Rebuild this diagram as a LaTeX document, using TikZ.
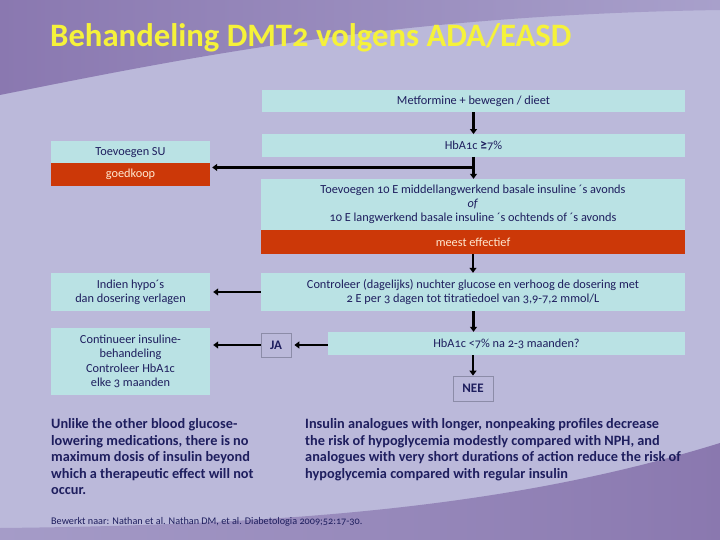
\documentclass[tikz,border=0pt]{standalone}
\usepackage{fontspec}
\setmainfont{Carlito}[Numbers=OldStyle]
\usetikzlibrary{arrows.meta,calc}
\definecolor{bgmain}{HTML}{BBB9DA}
\definecolor{topL}{HTML}{8A78B0}
\definecolor{topR}{HTML}{A8A0CB}
\definecolor{botL}{HTML}{A59CC8}
\definecolor{botR}{HTML}{8A78AF}
\definecolor{boxfill}{HTML}{BAE2E4}
\definecolor{redfill}{HTML}{CC3808}
\definecolor{redtext}{HTML}{FFE8D0}
\definecolor{navy}{HTML}{1E1E5E}
\definecolor{titlecol}{HTML}{F5F23A}
\definecolor{tagborder}{HTML}{8C8CA8}
\tikzset{
  stepbox/.style={fill=boxfill, draw=none, text=navy, inner sep=0pt, align=center,
    font=\fontsize{12.3}{14}\selectfont},
  redbox/.style={fill=redfill, draw=none, text=redtext, inner sep=0pt, align=center,
    font=\fontsize{12.3}{14}\selectfont},
  tagbox/.style={fill=bgmain, draw=tagborder, line width=0.8pt, text=navy, inner sep=0pt,
    font=\fontsize{13}{15}\selectfont\bfseries},
  arr/.style={draw=black, line width=2.2pt, -{Triangle[width=7pt,length=5pt]}},
  para/.style={text=navy, inner sep=0pt, anchor=north west, align=left,
    font=\fontsize{14.3}{16.5}\selectfont\bfseries}
}
\begin{document}
\begin{tikzpicture}[x=1pt,y=-1pt]
\useasboundingbox (0,0) rectangle (720,540);
% background
\fill[bgmain] (0,0) rectangle (720,540);
\shade[left color=topL, right color=topR]
  (0,0) -- (720,0) -- (720,10) .. controls (400,15) and (200,55) .. (0,95) -- cycle;
\shade[left color=botL, right color=botR]
  (0,540) -- (0,528) .. controls (300,525) and (520,505) .. (720,443) -- (720,540) -- cycle;
% title
\node[anchor=base west, inner sep=0pt, text=titlecol, font=\fontsize{32.7}{36}\selectfont\bfseries]
  (title) at (50,47) {Behandeling DMT2 volgens ADA/EASD};
% boxes
\node[stepbox, minimum width=423pt, minimum height=22pt] (met) at (473.5,101) {Metformine + bewegen / dieet};
\node[stepbox, minimum width=423pt, minimum height=22.5pt] (hba) at (473.5,145.5) {HbA1c \textbf{\fontsize{14}{14}\selectfont ≥}7\%};
\node[stepbox, minimum width=159pt, minimum height=22.3pt] (su) at (130.5,152.2) {Toevoegen SU};
\node[redbox, minimum width=159pt, minimum height=22.4pt] (goed) at (130.5,174.5) {goedkoop};
\node[stepbox, minimum width=424pt, minimum height=51pt] (ins) at (473,204.5)
  {Toevoegen 10 E middellangwerkend basale insuline ´s avonds\\\textit{of}\\10 E langwerkend basale insuline ´s ochtends of ´s avonds};
\node[redbox, minimum width=424pt, minimum height=24pt] (meest) at (473,242) {meest effectief};
\node[stepbox, minimum width=159pt, minimum height=38pt] (indien) at (130.5,292) {Indien hypo´s\\dan dosering verlagen};
\node[stepbox, minimum width=424pt, minimum height=38pt] (contr) at (473,292)
  {Controleer (dagelijks) nuchter glucose en verhoog de dosering met\\2 E per 3 dagen tot titratiedoel van 3,9-7,2 mmol/L};
\node[stepbox, minimum width=159pt, minimum height=67pt, font=\fontsize{12.3}{14.5}\selectfont] (cont) at (130.5,361.5)
  {Continueer insuline-\\behandeling\\Controleer HbA1c\\elke 3 maanden};
\node[stepbox, minimum width=357pt, minimum height=23pt] (hba2) at (506.5,343.5) {HbA1c <7\% na 2-3 maanden?};
\node[tagbox, minimum width=30pt, minimum height=24pt] (ja) at (276,345) {JA};
\node[tagbox, minimum width=40pt, minimum height=25pt] (nee) at (473,388.5) {NEE};
% connectors
\coordinate (j) at ($(hba.south)+(0,10.5)$);
\draw[arr] (met.south -| hba.north) -- (hba.north);
\draw[arr] (hba.south) -- (hba.south |- ins.north);
\draw[arr] (j) -- ([xshift=2pt]j -| goed.east);
\draw[arr] (meest.south -| contr.north) -- (contr.north);
\draw[arr] (contr.west) -- ([xshift=3pt]indien.east);
\draw[arr] (contr.south -| met.south) -- (hba2.north -| met.south);
\draw[arr] (hba2.south -| nee.north) -- (nee.north);
\draw[arr] (hba2.west |- ja.east) -- ([xshift=3pt]ja.east);
\draw[arr] (ja.west) -- ([xshift=3pt]ja.west -| cont.east);
% texts
\node[para] (left) at (51,418.5) {Unlike the other blood glucose-\\lowering medications, there is no\\maximum dosis of insulin beyond\\which a therapeutic effect will not\\occur.};
\node[para] (right) at (305,418.5) {Insulin analogues with longer, nonpeaking profiles decrease\\the risk of hypoglycemia modestly compared with NPH, and\\analogues with very short durations of action reduce the risk of\\hypoglycemia compared with regular insulin};
\node[anchor=west, inner sep=0pt, text=navy, font=\fontsize{10.2}{12}\selectfont] (ref) at (51,522)
  {Bewerkt naar: Nathan et al. Nathan DM, et al. Diabetologia 2009;52:17-30.};
\end{tikzpicture}
\end{document}
